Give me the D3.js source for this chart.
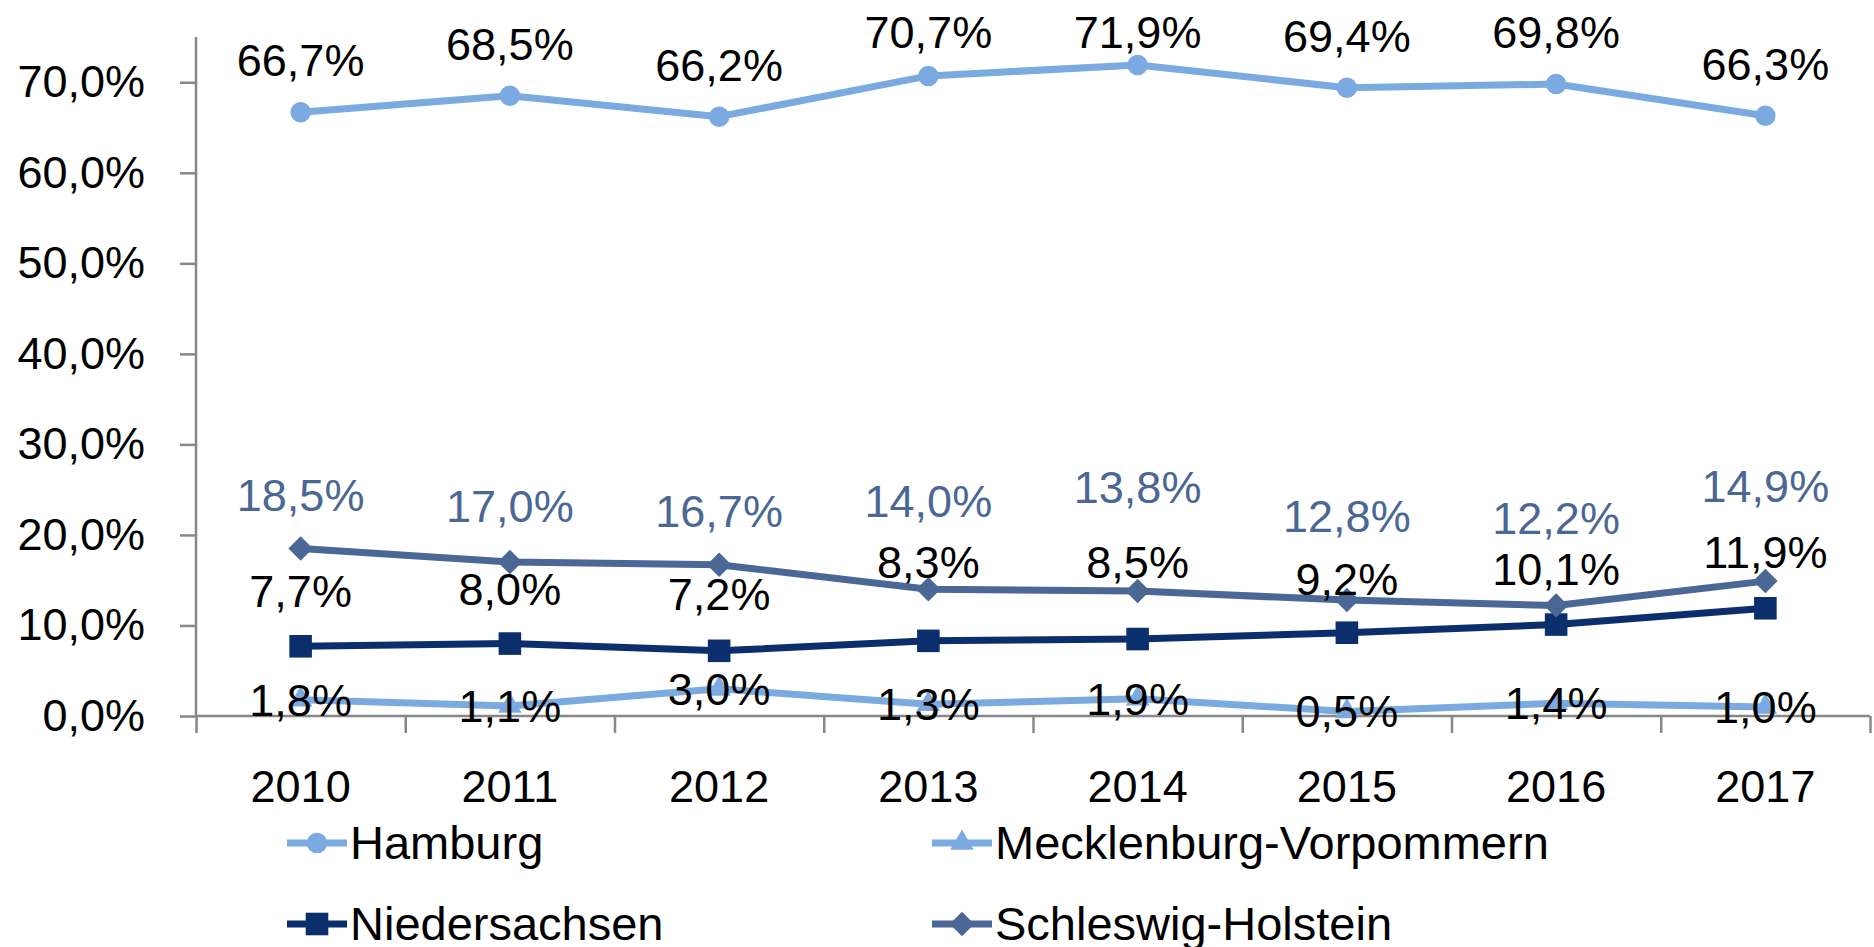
<!DOCTYPE html>
<html>
<head>
<meta charset="utf-8">
<script src="https://cdn.jsdelivr.net/npm/d3@7"></script>
<style>
  body { margin: 0; background: #fff; }
  svg text { font-family: "Liberation Sans", Arial, sans-serif; }
</style>
</head>
<body>
<svg id="chart" width="1874" height="947"></svg>
<script>
// data (percent)
var years = ["2010", "2011", "2012", "2013", "2014", "2015", "2016", "2017"];
var hamburg = [66.7, 68.5, 66.2, 70.7, 71.9, 69.4, 69.8, 66.3];
var mecklenburg = [1.8, 1.1, 3.0, 1.3, 1.9, 0.5, 1.4, 1.0];
var niedersachsen = [7.7, 8.0, 7.2, 8.3, 8.5, 9.2, 10.1, 11.9];
var schleswig = [18.5, 17.0, 16.7, 14.0, 13.8, 12.8, 12.2, 14.9];
var yTicks = [0, 10, 20, 30, 40, 50, 60, 70];

// how far each data label's baseline sits above its point (px), as placed in the original
var liftHamburg = [36, 36, 36, 36, 36, 36, 36, 36];
var liftNieder = [39, 39, 41, 63, 61, 38, 40, 40];
var liftSchleswig = [38, 40, 38, 72, 88, 68, 72, 79];

var series = [
  { name: "Hamburg", values: hamburg, color: "#7aaae0", marker: "circle", lift: liftHamburg, labelColor: "#000" },
  { name: "Mecklenburg-Vorpommern", values: mecklenburg, color: "#7aaae0", marker: "triangle", lift: null, labelColor: "#000" },
  { name: "Niedersachsen", values: niedersachsen, color: "#0b2f6d", marker: "square", lift: liftNieder, labelColor: "#000" },
  { name: "Schleswig-Holstein", values: schleswig, color: "#4a6795", marker: "diamond", lift: liftSchleswig, labelColor: "#4a6795" }
];

var svg = d3.select("#chart");
var plotLeft = 196, plotRight = 1870, plotTop = 37, plotBottom = 716;

var x = d3.scaleBand().domain(years).range([plotLeft, plotRight]);
var y = d3.scaleLinear().domain([0, 75]).range([plotBottom, plotTop]);
var fmt = function(v) { return d3.format(".1f")(v).replace(".", ",") + "%"; };
var cx = function(i) { return x(years[i]) + x.bandwidth() / 2; };

// square-ish diamond like the office one (d3's own is tall and narrow)
var wideDiamond = {
  draw: function(ctx, size) {
    var r = Math.sqrt(size / 2);
    ctx.moveTo(0, -r); ctx.lineTo(r, 0); ctx.lineTo(0, r); ctx.lineTo(-r, 0); ctx.closePath();
  }
};

var symbols = {
  circle: d3.symbol().type(d3.symbolCircle).size(330),
  triangle: d3.symbol().type(d3.symbolTriangle).size(240),
  square: d3.symbol().type(d3.symbolSquare).size(510),
  diamond: d3.symbol().type(wideDiamond).size(300)
};

// y axis
var yAxis = svg.append("g").attr("transform", "translate(" + plotLeft + ",0)")
  .call(d3.axisLeft(y).tickValues(yTicks).tickSize(16).tickPadding(35).tickFormat(fmt));
yAxis.select(".domain").attr("d", "M0," + plotTop + "V" + plotBottom);
yAxis.selectAll("line, .domain").attr("stroke", "#878787").attr("stroke-width", 2.5);
yAxis.selectAll("text").attr("font-size", 45).attr("fill", "#000")
  .attr("font-family", "Liberation Sans, Arial, sans-serif");

// x axis: ticks at category edges, labels at centers
var edges = d3.scaleLinear().domain([0, years.length]).range([plotLeft, plotRight]);
var xAxis = svg.append("g").attr("transform", "translate(0," + plotBottom + ")")
  .call(d3.axisBottom(edges).tickValues(d3.range(years.length + 1)).tickSize(17).tickFormat(""));
xAxis.select(".domain").attr("d", "M" + plotLeft + ",0H" + plotRight);
xAxis.selectAll("line, .domain").attr("stroke", "#878787").attr("stroke-width", 2.5);

svg.append("g").selectAll("text").data(years).join("text")
  .attr("x", function(d, i) { return cx(i); })
  .attr("y", 802)
  .attr("text-anchor", "middle")
  .attr("font-size", 45)
  .text(function(d) { return d; });

var line = d3.line()
  .x(function(d, i) { return cx(i); })
  .y(function(d) { return y(d); });

// lines and markers
series.forEach(function(s) {
  var g = svg.append("g");
  g.append("path").attr("d", line(s.values))
    .attr("fill", "none").attr("stroke", s.color).attr("stroke-width", 7).attr("stroke-linejoin", "round");
  g.selectAll("path.m").data(s.values).join("path").attr("class", "m")
    .attr("d", symbols[s.marker])
    .attr("transform", function(d, i) { return "translate(" + cx(i) + "," + y(d) + ")"; })
    .attr("fill", s.color);
});

// data labels on top; labels near the top edge are kept inside the plot
series.forEach(function(s) {
  svg.append("g").selectAll("text").data(s.values).join("text")
    .attr("x", function(d, i) { return cx(i); })
    .attr("y", function(d, i) {
      if (!s.lift) return y(d) + 16;
      return Math.max(y(d) - s.lift[i], 48);
    })
    .attr("text-anchor", "middle")
    .attr("font-size", 45)
    .attr("fill", s.labelColor)
    .text(fmt);
});

// legend
var legendPos = [[287, 843], [932, 843], [287, 924], [932, 924]];
series.forEach(function(s, i) {
  var g = svg.append("g").attr("transform", "translate(" + legendPos[i][0] + "," + legendPos[i][1] + ")");
  g.append("line").attr("x1", 0).attr("x2", 60).attr("stroke", s.color).attr("stroke-width", 7);
  g.append("path").attr("d", symbols[s.marker]).attr("transform", "translate(30,0)").attr("fill", s.color);
  g.append("text").attr("x", 63).attr("y", 16).attr("font-size", 47).text(s.name);
});
</script>
</body>
</html>
